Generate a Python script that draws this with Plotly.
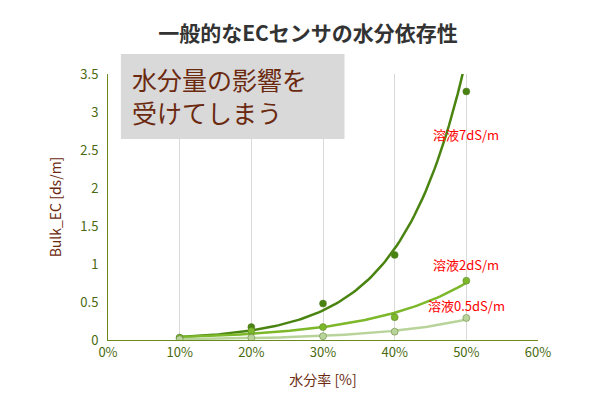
import numpy as np
import plotly.graph_objects as go

x = [0.10, 0.20, 0.30, 0.40, 0.50]
ec7 = [0.03, 0.17, 0.48, 1.12, 3.27]
ec2 = [0.03, 0.12, 0.17, 0.30, 0.78]
ec05 = [0.01, 0.03, 0.05, 0.11, 0.29]
names = ["溶液7dS/m", "溶液2dS/m", "溶液0.5dS/m"]
colors = ["#4a8410", "#7cb82a", "#b8d49a"]
label_y = [2.7, 1.0, 0.45]

fig = go.Figure()
xs = np.linspace(0.1, 0.5, 100)
for ys, c, n, ly in zip([ec7, ec2, ec05], colors, names, label_y):
    b, a = np.polyfit(x, np.log(ys), 1)
    yf = np.exp(a + b * xs)
    fig.add_trace(go.Scatter(x=xs, y=yf, mode="lines", line=dict(color=c, width=2.5), showlegend=False))
    fig.add_trace(go.Scatter(x=x, y=ys, mode="markers", marker=dict(color=c, size=7, line=dict(color="#5a7a30", width=0.5)), showlegend=False))
    fig.add_annotation(x=0.5, y=ly, text=n, showarrow=False, xanchor="center", font=dict(color="red", size=13, family="Noto Sans CJK JP"))

fig.add_shape(type="rect", xref="paper", yref="paper", x0=0.03, x1=0.55, y0=0.756, y1=1.075, fillcolor="#d9d9d9", line_width=0, layer="below")
fig.add_annotation(xref="paper", yref="paper", x=0.05, y=1.055, yanchor="top", text="水分量の影響を<br>受けてしまう", showarrow=False, xanchor="left", align="left",
                   font=dict(color="#6b2a10", size=25, family="Noto Sans CJK JP"))

fig.update_layout(
    width=600, height=400, margin=dict(l=100, r=70, t=66, b=68),
    plot_bgcolor="white", paper_bgcolor="white",
    title=dict(text="<b>一般的なECセンサの水分依存性</b>", x=0.5, y=0.955, xanchor="center", font=dict(size=21, color="#333", family="Noto Sans CJK JP")),
    font=dict(family="Noto Sans CJK JP"),
    xaxis=dict(range=[0, 0.6], dtick=0.1, tickformat=".0%", showgrid=True, gridcolor="#d9d9d9",
               showline=True, linecolor="#6a8a20", tickfont=dict(color="#4a6a10", size=13),
               title=dict(text="水分率 [%]", font=dict(color="#6b2a10", size=14)), zeroline=False),
    yaxis=dict(range=[0, 3.5], dtick=0.5, showgrid=False, showline=True, linecolor="#6a8a20",
               tickfont=dict(color="#4a6a10", size=13), zeroline=False, ticklabelstandoff=6,
               title=dict(text="Bulk_EC [ds/m]", font=dict(color="#6b2a10", size=14))),
)
fig.write_html("out.html")
